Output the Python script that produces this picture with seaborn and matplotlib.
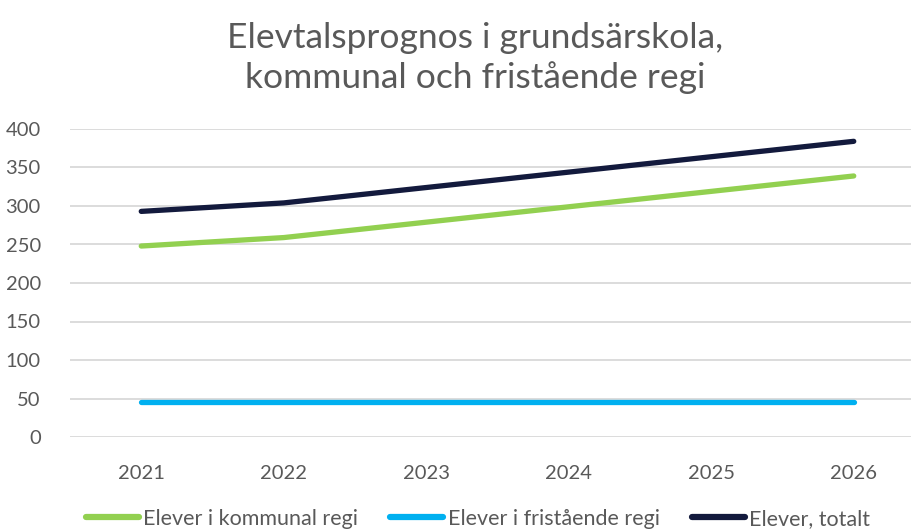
import matplotlib
matplotlib.use("Agg")
import matplotlib.pyplot as plt
import pandas as pd
import seaborn as sns

years = ["2021", "2022", "2023", "2024", "2025", "2026"]
kommunal = [248, 259, 279, 299, 319, 339]
fristaende = [45, 45, 45, 45, 45, 45]
totalt = [293, 304, 324, 344, 364, 384]

series_names = ["Elever i kommunal regi", "Elever i fristående regi", "Elever, totalt"]
colors = ["#92D050", "#00B0F0", "#131A3D"]

df = pd.DataFrame({
    "År": years * 3,
    "Elever": kommunal + fristaende + totalt,
    "Serie": [series_names[0]] * 6 + [series_names[1]] * 6 + [series_names[2]] * 6,
})

sns.set_style("white")
plt.rcParams["font.family"] = ["Lato", "DejaVu Sans"]

fig = plt.figure(figsize=(9.11, 5.32), dpi=100)
ax = fig.add_axes([70 / 911, (532 - 437) / 532, 855 / 911, 308 / 532])

sns.lineplot(
    data=df, x="År", y="Elever", hue="Serie", hue_order=series_names,
    palette=colors, linewidth=3.8, ax=ax, legend=True,
    solid_capstyle="round",
)

ax.set_xlim(-0.5, 5.5)
ax.set_ylim(0, 400)
ax.set_yticks(range(0, 401, 50))
ax.grid(axis="y", color="#D9D9D9", linewidth=1.3)
ax.set_axisbelow(True)
for s in ax.spines.values():
    s.set_visible(False)
ax.tick_params(axis="both", length=0, labelsize=14.5, labelcolor="#595959")
ax.tick_params(axis="x", pad=20)
ax.tick_params(axis="y", pad=21)
ax.set_xlabel("")
ax.set_ylabel("")

handles, labels = ax.get_legend_handles_labels()
ax.legend_.remove()
fig.legend(
    handles, labels, loc="center", bbox_to_anchor=(478 / 911, 1 - 519 / 532),
    ncol=3, frameon=False, fontsize=15.5, handlelength=2.45, handletextpad=0.2,
    columnspacing=1.5, labelcolor="#595959",
)
for h in fig.legends[0].get_lines():
    h.set_linewidth(4.5)

fig.text(475 / 911, 1 - 58 / 532, "Elevtalsprognos i grundsärskola,\nkommunal och fristående regi",
         ha="center", va="center", fontsize=25.5, color="#595959", linespacing=1.28)

fig.savefig("out.png", dpi=100)
